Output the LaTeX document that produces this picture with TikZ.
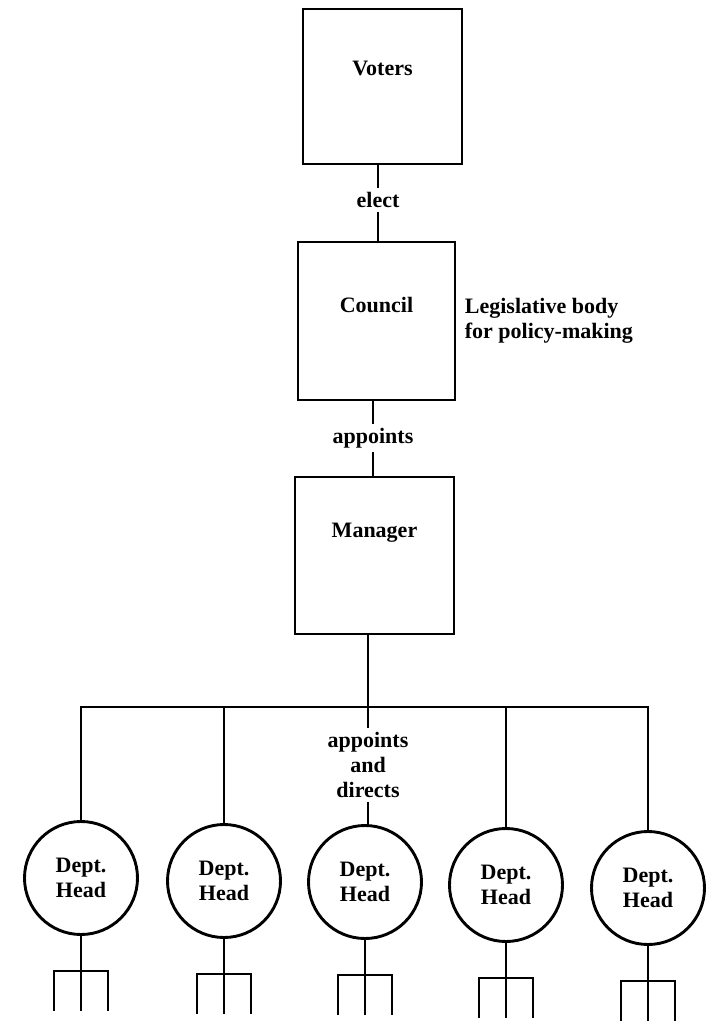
\documentclass[tikz,border=0pt]{standalone}
\usepackage{fontspec}
\setmainfont{Liberation Serif}
\usetikzlibrary{positioning}

\begin{document}
\begin{tikzpicture}[x=1pt, y=-1pt, line width=2.9pt,
    box/.style={draw, minimum width=159pt, minimum height=155pt, inner sep=0pt},
    head/.style={draw, circle, minimum size=113pt, inner sep=0pt},
    word/.style={font=\bfseries\fontsize{22}{25}\selectfont, align=center, inner sep=3pt}]
    \useasboundingbox (0,0) rectangle (718,1028);

    % Voters and Council
    \node[box] (voters) at (382.5,86.5) {};
    \node[word] (voterstxt) at (382.5,68) {Voters};

    \node[box, minimum width=157pt, minimum height=158pt] (council) at (376.5,321) {};
    \node[word] (counciltxt) at (376.5,305) {Council};
    \node[word, align=left, right=4pt of council] (note) {Legislative body\\for policy-making};

    \node[word] (elect) at (378,200) {elect};
    \draw (elect |- voters.south) -- (elect);
    \draw (elect) -- (elect |- council.north);

    % Manager
    \node[box, minimum height=157pt] (manager) at (374.5,555.5) {};
    \node[word] (managertxt) at (374.5,533) {Manager};

    \node[word] (appoints) at (373,438) {appoints};
    \draw (appoints |- council.south) -- (appoints);
    \draw (appoints) -- (appoints |- manager.north);

    % Department heads
    \foreach \n/\x/\y in {1/81/878, 2/224/881, 3/365/882, 4/506/885, 5/648/888}
        \node[head, word] (dh\n) at (\x,\y) {Dept.\\Head};

    \coordinate (bar) at (370,707);
    \draw (dh1.north) -- (dh1.north |- bar) -- (dh5.north |- bar) -- (dh5.north);
    \draw (dh2.north) -- (dh2.north |- bar);
    \draw (dh4.north) -- (dh4.north |- bar);

    \node[word] (directs) at (368,765) {appoints\\and\\directs};
    \draw (directs.north |- manager.south) -- (directs);
    \draw (directs) -- (directs.south |- dh3.north);

    % Staff under each head
    \foreach \n in {1,...,5} {
        \draw (dh\n.south) -- ++(0,35) coordinate (f\n);
        \draw ([xshift=-27pt,yshift=-40pt]f\n) -- ([xshift=-27pt]f\n) -- ([xshift=27pt]f\n) -- ([xshift=27pt,yshift=-40pt]f\n);
        \draw (f\n) -- ++(0,40) coordinate (p\n);
    }
\end{tikzpicture}
\end{document}
